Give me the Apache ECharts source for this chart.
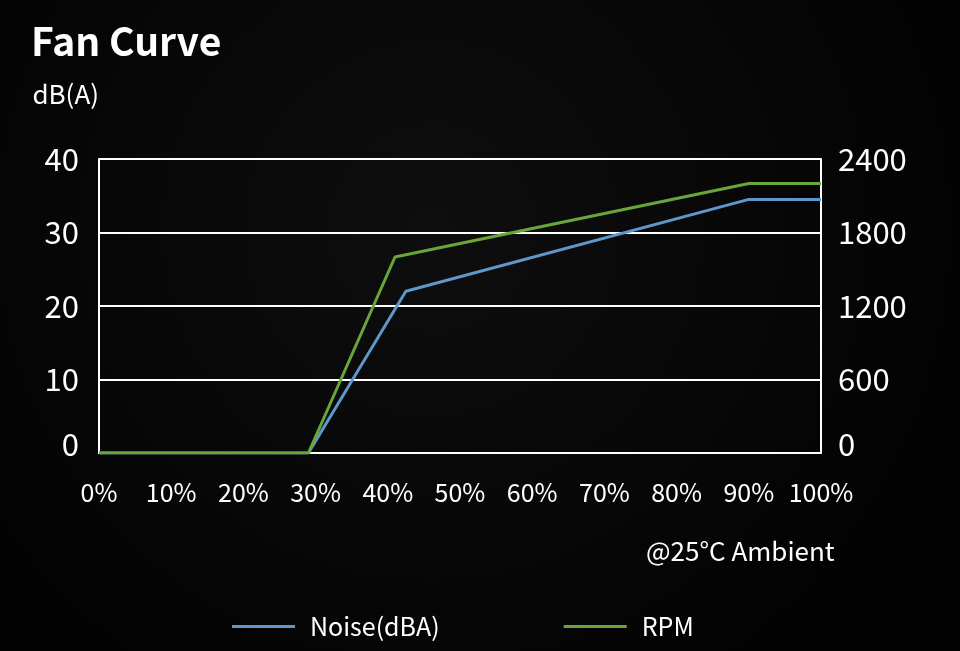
<!DOCTYPE html>
<html>
<head>
<meta charset="utf-8">
<script src="https://cdn.jsdelivr.net/npm/echarts@6/dist/echarts.min.js"></script>
<style>html,body{margin:0;padding:0;background:#060606;}#c{width:960px;height:651px;}</style>
</head>
<body>
<div id="c"></div>
<script>
const seriesNames = ['Noise(dBA)', 'RPM'];
const noiseX = [0, 29, 42.5, 90, 100];
const noiseY = [0, 0, 22, 34.5, 34.5];
const rpmX = [0, 29, 41, 90, 100];
const rpmY = [0, 0, 1600, 2200, 2200];
const leftTicks = { min: 0, max: 40, interval: 10 };
const rightTicks = { min: 0, max: 2400, interval: 600 };
const xTicks = { min: 0, max: 100, interval: 10 };

const FONT = '"Noto Sans CJK SC", "Noto Sans", sans-serif';
const chart = echarts.init(document.getElementById('c'));
const zeroRich = { z: { color: '#fff', fontSize: 31, fontFamily: FONT, padding: [0, 0, 18, 0] } };
chart.setOption({
  backgroundColor: {
    type: 'radial', x: 0.45, y: 0.35, r: 0.8,
    colorStops: [{ offset: 0, color: '#0e0e0e' }, { offset: 1, color: '#030303' }]
  },
  title: [
    { text: 'Fan Curve', left: 26, top: 17, textStyle: { color: '#fff', fontSize: 39, fontWeight: 'bold', fontFamily: FONT } },
    { text: '@25°C Ambient', left: 641, top: 533, textStyle: { color: '#fff', fontSize: 26, fontWeight: 'normal', fontFamily: FONT } }
  ],
  legend: {
    left: 227, top: 609, itemGap: 124, itemWidth: 63, itemHeight: 3, icon: 'rect',
    textStyle: { color: '#fff', fontSize: 25, fontFamily: FONT, padding: [0, 0, 0, 10] },
    data: seriesNames
  },
  grid: { left: 99, right: 139, top: 159, bottom: 198 },
  xAxis: {
    type: 'value', min: xTicks.min, max: xTicks.max, interval: xTicks.interval,
    axisLine: { show: true, lineStyle: { color: '#fff', width: 2 } },
    axisTick: { show: false }, splitLine: { show: false },
    axisLabel: { color: '#fff', fontSize: 25, fontFamily: FONT, margin: 27, formatter: '{value}%' }
  },
  yAxis: [
    {
      type: 'value', min: leftTicks.min, max: leftTicks.max, interval: leftTicks.interval,
      name: 'dB(A)', nameLocation: 'end', nameGap: 52,
      nameTextStyle: { color: '#fff', fontSize: 26, fontFamily: FONT, align: 'right', padding: [0, 0, 0, 0] },
      axisLine: { show: true, lineStyle: { color: '#fff', width: 2 } },
      axisTick: { show: false },
      splitLine: { show: true, lineStyle: { color: '#fff', width: 2 } },
      axisLabel: { color: '#fff', fontSize: 31, fontFamily: FONT, margin: 20,
        formatter: v => v === 0 ? '{z|0}' : String(v), rich: zeroRich }
    },
    {
      type: 'value', min: rightTicks.min, max: rightTicks.max, interval: rightTicks.interval, position: 'right',
      axisLine: { show: true, lineStyle: { color: '#fff', width: 2 } },
      axisTick: { show: false }, splitLine: { show: false },
      axisLabel: { color: '#fff', fontSize: 31, fontFamily: FONT, margin: 17,
        formatter: v => v === 0 ? '{z|0}' : String(v), rich: zeroRich }
    }
  ],
  series: [
    {
      name: seriesNames[0], type: 'line', yAxisIndex: 0, showSymbol: false, z: 3,
      data: noiseX.map((x, i) => [x, noiseY[i]]),
      lineStyle: { color: '#5e97c9', width: 3 }, itemStyle: { color: '#5e97c9' }
    },
    {
      name: seriesNames[1], type: 'line', yAxisIndex: 1, showSymbol: false, z: 4,
      data: rpmX.map((x, i) => [x, rpmY[i]]),
      lineStyle: { color: '#68a63a', width: 3 }, itemStyle: { color: '#68a63a' }
    }
  ],
  animation: false
});
</script>
</body>
</html>
